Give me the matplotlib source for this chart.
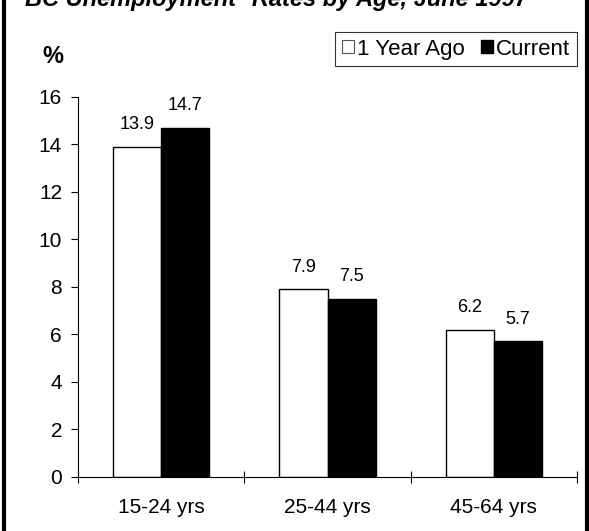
import numpy as np
import matplotlib.pyplot as plt
from matplotlib.lines import Line2D

plt.rcParams['font.family'] = ['Liberation Sans', 'DejaVu Sans']

# Données
categories = ["15-24 yrs", "25-44 yrs", "45-64 yrs"]
year_ago = [13.9, 7.9, 6.2]
current = [14.7, 7.5, 5.7]
series_names = ["1 Year Ago", "Current"]
y_ticks = [0, 2, 4, 6, 8, 10, 12, 14, 16]

W, H = 589, 531
fig = plt.figure(figsize=(W / 100, H / 100), dpi=100)
ax = fig.add_axes([78 / W, 1 - 477 / H, (577 - 78) / W, (477 - 96.6) / H])

x = np.arange(len(categories))
bw = 0.29
b1 = ax.bar(x - bw / 2, year_ago, bw, color="white", edgecolor="black", linewidth=1.0,
            label=series_names[0])
b2 = ax.bar(x + bw / 2, current, bw, color="black", edgecolor="black", linewidth=1.0,
            label=series_names[1])

for xs, vals in [(x - bw / 2, year_ago), (x + bw / 2, current)]:
    for xi, v in zip(xs, vals):
        ax.annotate(f"{v:.1f}", (xi, v), xytext=(0, 12.5), textcoords="offset points",
                    ha="center", va="baseline", fontsize=13)

ax.set_xlim(-0.5, len(categories) - 0.5)
ax.set_ylim(0, 16)
ax.set_yticks(y_ticks)
ax.tick_params(axis="y", direction="out", length=5, width=0.8, pad=6.5, labelsize=15)

# ticks aux frontières, étiquettes au centre
ax.set_xticks(np.arange(len(categories) + 1) - 0.5)
ax.set_xticklabels([])
ax.set_xticks(x, minor=True)
ax.set_xticklabels(categories, minor=True)
ax.tick_params(axis="x", which="major", direction="inout", length=9, width=0.8)
ax.tick_params(axis="x", which="minor", length=0, pad=15, labelsize=15)

for s in ["top", "right"]:
    ax.spines[s].set_visible(False)
for s in ["left", "bottom"]:
    ax.spines[s].set_linewidth(0.8)

leg = fig.legend(handles=[b1, b2], loc="upper right", bbox_to_anchor=(577 / W, 1 - 32 / H),
                 ncol=2, fontsize=16, frameon=True, fancybox=False, edgecolor="#333333",
                 framealpha=1, borderpad=0.3, handlelength=0.55, handleheight=0.55,
                 handletextpad=0.15, columnspacing=0.7, borderaxespad=0)
leg.get_frame().set_linewidth(0.8)
leg.legend_handles[0].set_edgecolor("#555555")
leg.legend_handles[0].set_linewidth(0.8)

fig.text(25 / W, 1 - 6 / H, "BC Unemployment* Rates by Age, June 1997",
         fontsize=17, fontweight="bold", fontstyle="italic", ha="left", va="baseline")
fig.text(42 / W, 1 - 63 / H, "%", fontsize=17, fontweight="bold", ha="left", va="baseline")

# cadre épais
for xf in [4 / W, 587 / W]:
    fig.add_artist(Line2D([xf, xf], [-0.1, 1.1], color="black", linewidth=3,
                          transform=fig.transFigure))

fig.savefig("out.png", dpi=100)
